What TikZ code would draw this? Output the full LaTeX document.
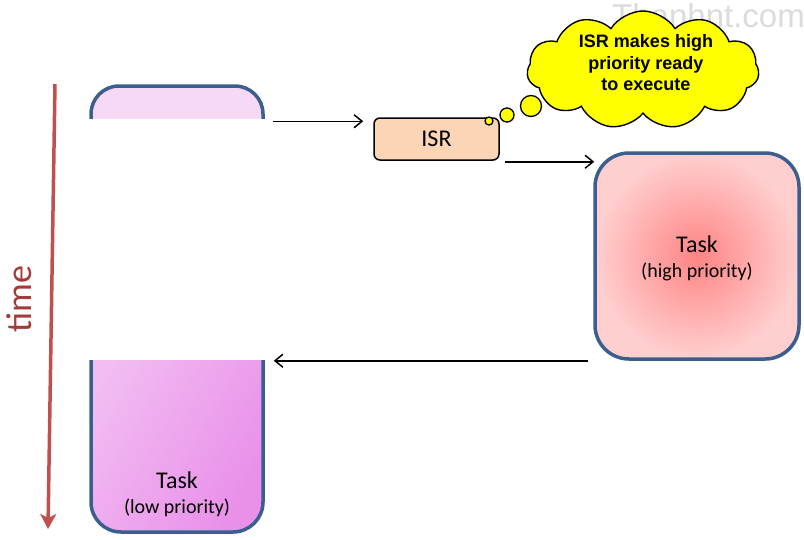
\documentclass[tikz,border=0pt]{standalone}
\usepackage{fontspec}
\setmainfont{Carlito}
\newfontfamily\arialfont{Liberation Sans}
\usetikzlibrary{shapes.symbols,arrows.meta,calc}
\definecolor{taskborder}{HTML}{3A5F8F}
\definecolor{lowtopcol}{HTML}{F7D8F7}
\definecolor{lowA}{HTML}{F2BEF2}
\definecolor{lowB}{HTML}{E990E9}
\definecolor{highin}{HTML}{FF8484}
\definecolor{highout}{HTML}{FFCFCF}
\definecolor{isrfill}{HTML}{FBD5B5}
\definecolor{timered}{HTML}{C0504D}
\definecolor{timetext}{HTML}{A33B38}
\definecolor{cloudyellow}{HTML}{FFFF00}
\tikzset{
  taskbox/.style={draw=taskborder, line width=3.5pt, rounded corners=28pt, minimum width=172pt},
  conn/.style={draw=black, line width=1.5pt, -{Straight Barb[length=8pt,width=13pt]}},
  isrbox/.style={draw=black, line width=1.5pt, fill=isrfill, rounded corners=6pt,
     minimum width=125pt, minimum height=42pt, font=\fontsize{24}{28}\selectfont},
  tasklabel/.style={align=center, font=\fontsize{24}{28}\selectfont},
  bubble/.style={draw=black, line width=1.3pt, fill=cloudyellow, circle, inner sep=0pt},
}
\begin{document}
\begin{tikzpicture}[x=1pt,y=-1pt]
\useasboundingbox (0,0) rectangle (804,539);

% watermark
\node[anchor=base east, text=black!14, font=\arialfont\fontsize{33}{33}\selectfont, inner sep=0pt] (wm) at (805,27) {Thanhnt.com};

% low priority task, top part
\begin{scope}
  \clip (70,60) rectangle (280,118);
  \node[taskbox, fill=lowtopcol, minimum height=80pt] (lowtop) at (177,126) {};
\end{scope}
% low priority task, bottom part
\begin{scope}
  \clip (70,360) rectangle (280,545);
  \node[taskbox, left color=lowA, right color=lowB, shading angle=60, minimum height=212pt, rounded corners=30pt] (lowbot) at (177,426) {};
\end{scope}
\node[tasklabel] (lowlabel) at (177,494) {Task\\[-3pt]{\fontsize{20}{24}\selectfont (low priority)}};

% high priority task
\node[taskbox, inner color=highin, outer color=highout, minimum width=204pt, minimum height=206pt, rounded corners=34pt] (high) at (697,256) {};
\node[tasklabel] (highlabel) at (697,258) {Task\\[-3pt]{\fontsize{20}{24}\selectfont (high priority)}};

% ISR
\node[isrbox] (isr) at (436.5,139) {ISR};

% cloud
\node[cloud, cloud puffs=11, cloud puff arc=115, cloud ignores aspect, draw=black, line width=1.4pt,
      fill=cloudyellow, minimum width=232pt, minimum height=118pt] (cloud) at (643,70) {};
\node[align=center, font=\arialfont\bfseries\fontsize{18}{21.5}\selectfont, inner sep=0pt] (cloudtext) at (646,63)
      {ISR makes high\\priority ready\\to execute};
\node[bubble, minimum size=21pt] (b1) at (531,106) {};
\node[bubble, minimum size=14pt] (b2) at (507,115) {};
\node[bubble, minimum size=8pt] (b3) at (489,121) {};

% arrows
\draw[conn] ([shift={(8,4)}]lowtop.east |- isr.north) -- ([shift={(-10,4)}]isr.north west);
\draw[conn] ([shift={(5,1)}]isr.south east) -- ([shift={(1,1)}]high.west |- isr.south);
\draw[conn] ([shift={(-5,0)}]high.south west) -- ([shift={(9,0)}]lowbot.east |- high.south);

% time axis
\coordinate (ttop) at (55,84);
\coordinate (tbot) at (48,529);
\draw[timered, line width=3.5pt, -{Stealth[length=15pt,width=16pt,inset=4pt]}] (ttop) -- (tbot);
\node[rotate=90, text=timetext, font=\fontsize{36}{40}\selectfont] (timelabel) at (19,299) {time};
\end{tikzpicture}
\end{document}
